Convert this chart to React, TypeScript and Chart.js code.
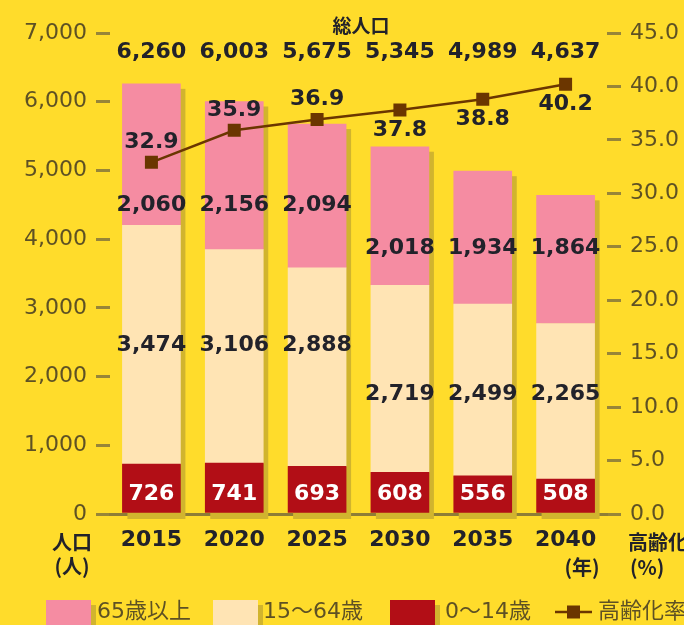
import React, { useEffect, useRef } from "react";
import { Chart, registerables } from "chart.js";

Chart.register(...registerables);

// ---- data ----
const YEARS = ["2015", "2020", "2025", "2030", "2035", "2040"];
const AGE_0_14 = [726, 741, 693, 608, 556, 508];
const AGE_15_64 = [3474, 3106, 2888, 2719, 2499, 2265];
const AGE_65_UP = [2060, 2156, 2094, 2018, 1934, 1864];
const TOTAL = [6260, 6003, 5675, 5345, 4989, 4637];
const AGING_RATE = [32.9, 35.9, 36.9, 37.8, 38.8, 40.2];
const SERIES_LABELS = ["65歳以上", "15〜64歳", "0〜14歳", "高齢化率"];

// ---- label layout (value-space anchors, not data) ----
const OLD_LABEL_AT = [4490, 4490, 4490, 3860, 3860, 3860];
const MID_LABEL_AT = [2455, 2455, 2455, 1745, 1745, 1745];
const RATE_LABEL_SIDE = [-1, -1, -1, 1, 1, 1];

// ---- styles ----
const BG = "#FFDC2B";
const SHADOW = "#D1B42E";
const PINK = "#F58CA2";
const PEACH = "#FFE4B4";
const RED = "#B20E16";
const BROWN = "#6B3600";
const TICK = "#978538";
const TICK_TEXT = "#5E5124";
const DARK = "#22222A";
const NUM_FONT = '"DejaVu Sans"';
const JP_FONT = '"Noto Sans CJK JP"';

const shadowPlugin = {
  id: "barShadow",
  beforeDatasetsDraw(chart: any) {
    const ctx = chart.ctx;
    const yScale = chart.scales.y;
    const base = yScale.getPixelForValue(0);
    const topMeta = chart.getDatasetMeta(2);
    ctx.save();
    ctx.fillStyle = SHADOW;
    topMeta.data.forEach((el: any) => {
      const w = el.width;
      ctx.fillRect(el.x - w / 2 + 5, el.y + 5, w, base - el.y);
    });
    ctx.restore();
  },
};

const labelPlugin = {
  id: "valueLabels",
  afterDatasetsDraw(chart: any) {
    const ctx = chart.ctx;
    const y = chart.scales.y;
    const area = chart.chartArea;
    const base = y.getPixelForValue(0);
    const meta = chart.getDatasetMeta(0);
    const lineMeta = chart.getDatasetMeta(3);
    ctx.save();
    ctx.textAlign = "center";
    ctx.textBaseline = "middle";
    const fmt = (v: number) => v.toLocaleString("en-US");
    meta.data.forEach((el: any, i: number) => {
      const x = el.x;
      ctx.font = `bold 22px ${NUM_FONT}`;
      ctx.fillStyle = DARK;
      ctx.fillText(fmt(TOTAL[i]), x, area.top + 19);
      ctx.fillText(fmt(AGE_65_UP[i]), x, y.getPixelForValue(OLD_LABEL_AT[i]));
      ctx.fillText(fmt(AGE_15_64[i]), x, y.getPixelForValue(MID_LABEL_AT[i]));
      ctx.fillStyle = "#FFFFFF";
      ctx.fillText(fmt(AGE_0_14[i]), x, base - 20);
      const p = lineMeta.data[i];
      ctx.fillStyle = DARK;
      ctx.fillText(AGING_RATE[i].toFixed(1), p.x, p.y + RATE_LABEL_SIDE[i] * 20);
    });
    ctx.font = `bold 19px ${JP_FONT}`;
    ctx.fillStyle = DARK;
    ctx.fillText("総人口", 361, 26);
    ctx.restore();
  },
};

const decorPlugin = {
  id: "decor",
  afterDraw(chart: any) {
    const ctx = chart.ctx;
    ctx.save();
    ctx.fillStyle = DARK;
    ctx.textBaseline = "middle";
    ctx.font = `bold 20px ${JP_FONT}`;
    ctx.textAlign = "center";
    ctx.fillText("人口", 72, 542);
    ctx.fillText("(人)", 72, 566);
    ctx.fillText("(年)", 582, 567);
    ctx.textAlign = "left";
    ctx.fillText("高齢化率", 628, 542);
    ctx.fillText("(%)", 630, 567);

    // legend
    const boxes = [
      { x: 46, color: PINK, tx: 97 },
      { x: 213, color: PEACH, tx: 263 },
      { x: 390, color: RED, tx: 445 },
    ];
    const ly = 612;
    boxes.forEach((b, i) => {
      ctx.fillStyle = SHADOW;
      ctx.fillRect(b.x + 5, 605, 45, 25);
      ctx.fillStyle = b.color;
      ctx.fillRect(b.x, 600, 45, 30);
      ctx.fillStyle = TICK_TEXT;
      ctx.font = `22px ${NUM_FONT}, ${JP_FONT}`;
      ctx.fillText(SERIES_LABELS[i], b.tx, ly);
    });
    ctx.strokeStyle = BROWN;
    ctx.lineWidth = 2.5;
    ctx.beginPath();
    ctx.moveTo(555, ly);
    ctx.lineTo(592, ly);
    ctx.stroke();
    ctx.fillStyle = BROWN;
    ctx.fillRect(567, ly - 6.5, 13, 13);
    ctx.fillStyle = TICK_TEXT;
    ctx.font = `22px ${NUM_FONT}, ${JP_FONT}`;
    ctx.fillText(SERIES_LABELS[3], 598, ly);
    ctx.restore();
  },
};

export default function App() {
  const ref = useRef<HTMLCanvasElement | null>(null);
  useEffect(() => {
    if (!ref.current) return;
    const gridOpts = {
      drawOnChartArea: false,
      drawTicks: true,
      tickLength: 14,
      color: TICK,
      lineWidth: 3,
    };
    const chart = new Chart(ref.current, {
      type: "bar",
      data: {
        labels: YEARS,
        datasets: [
          { type: "bar", label: SERIES_LABELS[2], data: AGE_0_14, backgroundColor: RED, barThickness: 58, yAxisID: "y", order: 1 },
          { type: "bar", label: SERIES_LABELS[1], data: AGE_15_64, backgroundColor: PEACH, barThickness: 58, yAxisID: "y", order: 1 },
          { type: "bar", label: SERIES_LABELS[0], data: AGE_65_UP, backgroundColor: PINK, barThickness: 58, yAxisID: "y", order: 1 },
          {
            type: "line",
            label: SERIES_LABELS[3],
            data: AGING_RATE,
            yAxisID: "y1",
            borderColor: BROWN,
            borderWidth: 2.5,
            pointStyle: "rect",
            pointRadius: 9.2,
            pointBackgroundColor: BROWN,
            pointBorderWidth: 0,
            order: 0,
          } as any,
        ],
      },
      options: {
        responsive: false,
        animation: false,
        devicePixelRatio: 1,
        layout: { padding: { top: 33, left: 0, right: 0, bottom: 0 } },
        plugins: { legend: { display: false }, tooltip: { enabled: false } },
        scales: {
          x: {
            stacked: true,
            grid: { display: false, drawTicks: false },
            border: { display: true, color: "#8E7D36", width: 3 },
            ticks: { color: DARK, padding: 13, font: { family: "DejaVu Sans", weight: "bold", size: 22 } },
            afterFit: (s: any) => { s.height = 111; },
          },
          y: {
            stacked: true,
            min: 0,
            max: 7000,
            position: "left",
            grid: gridOpts,
            border: { display: false },
            ticks: {
              stepSize: 1000,
              padding: 9,
              color: TICK_TEXT,
              font: { family: "DejaVu Sans", size: 22 },
              callback: (v: any) => Number(v).toLocaleString("en-US"),
            },
            afterFit: (s: any) => { s.width = 110; },
          },
          y1: {
            min: 0,
            max: 45,
            position: "right",
            grid: gridOpts,
            border: { display: false },
            ticks: {
              stepSize: 5,
              padding: 9,
              color: TICK_TEXT,
              font: { family: "DejaVu Sans", size: 22 },
              callback: (v: any) => Number(v).toFixed(1),
            },
            afterFit: (s: any) => { s.width = 77; },
          },
        },
      } as any,
      plugins: [shadowPlugin, labelPlugin, decorPlugin],
    });
    return () => chart.destroy();
  }, []);
  return (
    <div style={{ position: "fixed", left: 0, top: 0, width: 684, height: 625, background: BG, overflow: "hidden" }}>
      <canvas ref={ref} width={684} height={625} style={{ display: "block" }} />
    </div>
  );
}
